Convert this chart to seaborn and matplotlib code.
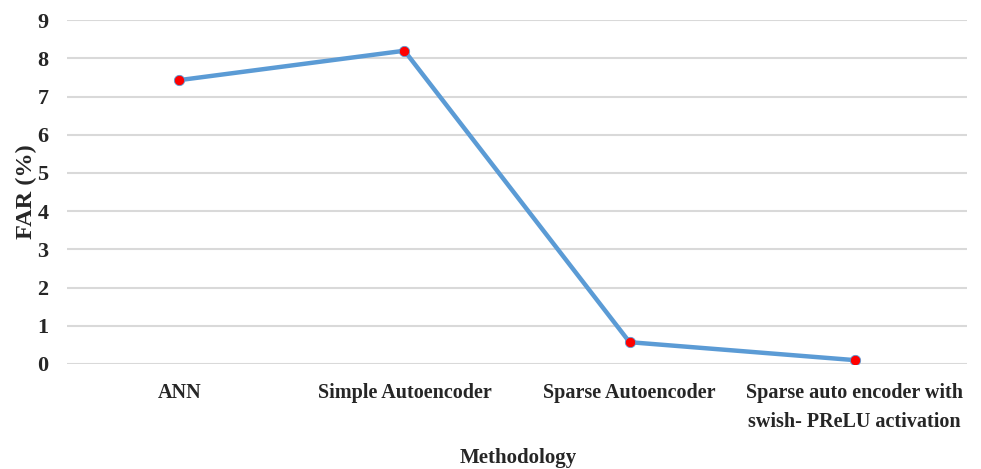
import matplotlib
matplotlib.use("Agg")
import matplotlib.pyplot as plt
import seaborn as sns
import pandas as pd

# FAR values per methodology
methods = [
    "ANN",
    "Simple Autoencoder",
    "Sparse Autoencoder",
    "Sparse auto encoder with\nswish- PReLU activation",
]
far = [7.43, 8.2, 0.57, 0.1]
y_ticks = [0, 1, 2, 3, 4, 5, 6, 7, 8, 9]

df = pd.DataFrame({"Methodology": methods, "FAR": far})

sns.set_theme(style="white")
plt.rcParams["font.family"] = ["Liberation Serif", "DejaVu Serif"]
plt.rcParams["font.weight"] = "bold"

fig = plt.figure(figsize=(9.81, 4.69), dpi=100)
ax = fig.add_axes([0.068, 0.224, 0.918, 0.733])

sns.lineplot(data=df, x="Methodology", y="FAR", ax=ax, sort=False,
             color="#5b9bd5", linewidth=3.2, zorder=3)
sns.scatterplot(data=df, x="Methodology", y="FAR", ax=ax, color="#ff0000",
                s=55, edgecolor="#5b9bd5", linewidth=0.6, zorder=4)

ax.set_xlim(-0.5, 3.5)
ax.set_ylim(0, 9)
ax.set_yticks(y_ticks)
ax.set_yticklabels([str(t) for t in y_ticks], fontsize=16, fontweight="bold")
ax.tick_params(axis="x", labelsize=14.5, pad=14, length=0)
ax.tick_params(axis="y", pad=13, length=0)
for lbl in ax.get_xticklabels():
    lbl.set_fontweight("bold")
    lbl.set_linespacing(1.55)

ax.yaxis.grid(True, color="#d9d9d9", linewidth=1.5)
ax.xaxis.grid(False)
for s in ax.spines.values():
    s.set_visible(False)

ax.set_ylabel("FAR (%)", fontsize=17.5, fontweight="bold", labelpad=0)
ax.set_xlabel("")
fig.text(0.528, 0.024, "Methodology", ha="center", va="center",
         fontsize=15, fontweight="bold")

fig.savefig("out.png", dpi=100, facecolor="white")
